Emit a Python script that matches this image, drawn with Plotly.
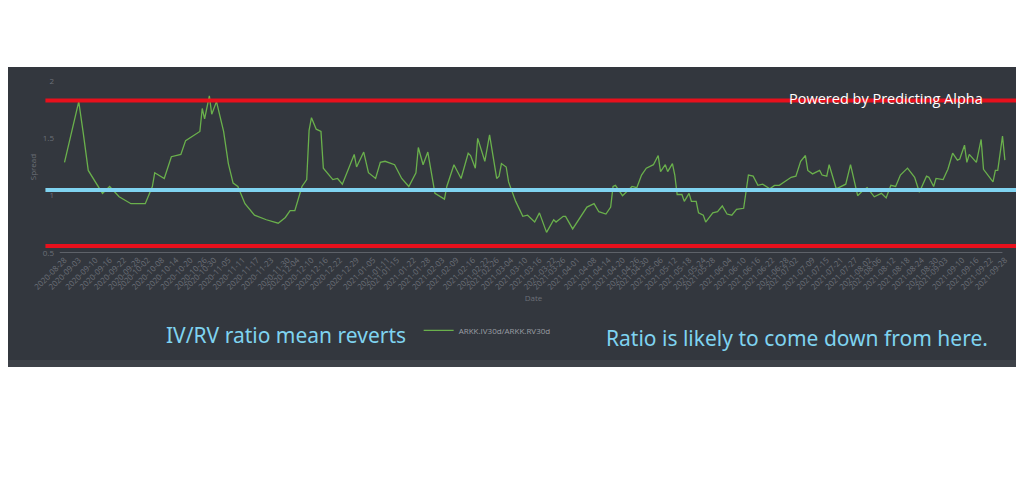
import plotly.graph_objects as go
import pandas as pd

start = pd.Timestamp("2020-08-28")

# days after 2020-08-28
day_offsets = [0, 6, 8, 10, 16, 19, 23, 28, 34, 37, 38, 42, 45, 49, 51, 57, 58, 59, 61, 62,
               64, 67, 69, 71, 73, 76, 80, 85, 90, 93, 95, 97, 100, 102, 103, 104, 106, 108, 109, 113,
               115, 117, 122, 123, 126, 128, 131, 133, 135, 139, 142, 145, 148, 149, 151, 153, 156, 160, 161, 164,
               167, 170, 171, 173, 174, 177, 179, 182, 183, 184, 186, 187, 190, 193, 195, 198, 200, 203, 206, 207,
               210, 211, 214, 216, 220, 223, 225, 228, 230, 231, 232, 235, 239, 241, 243, 245, 248, 250, 251, 253,
               254, 256, 257, 258, 260, 261, 263, 264, 266, 267, 269, 270, 273, 275, 277, 279, 281, 283, 286, 288,
               290, 292, 294, 297, 299, 301, 303, 306, 308, 310, 312, 313, 315, 318, 319, 321, 322, 325, 329, 331,
               334, 336, 338, 341, 344, 346, 348, 350, 352, 355, 358, 360, 363, 364, 366, 367, 370, 372, 374, 376,
               377, 379, 380, 381, 384, 386, 387, 391, 392, 393, 395, 396]
spread = [1.29, 1.82, 1.53, 1.22, 1.02, 1.08, 0.99, 0.93, 0.93, 1.08, 1.20, 1.15, 1.34, 1.36, 1.48, 1.56, 1.76, 1.67, 1.87, 1.71,
          1.82, 1.56, 1.28, 1.11, 1.08, 0.93, 0.83, 0.79, 0.76, 0.81, 0.87, 0.87, 1.08, 1.14, 1.57, 1.68, 1.58, 1.56, 1.24, 1.14,
          1.15, 1.10, 1.36, 1.25, 1.38, 1.20, 1.15, 1.29, 1.30, 1.27, 1.15, 1.08, 1.20, 1.42, 1.27, 1.38, 1.02, 0.97, 1.08, 1.27,
          1.15, 1.37, 1.35, 1.24, 1.50, 1.30, 1.53, 1.15, 1.17, 1.28, 1.25, 1.12, 0.95, 0.82, 0.83, 0.77, 0.85, 0.68, 0.79, 0.77,
          0.82, 0.82, 0.71, 0.77, 0.90, 0.93, 0.86, 0.84, 0.90, 1.08, 1.09, 1.00, 1.08, 1.07, 1.18, 1.24, 1.27, 1.35, 1.21, 1.27,
          1.21, 1.28, 1.18, 1.01, 1.01, 0.95, 1.02, 0.95, 0.95, 0.85, 0.83, 0.77, 0.85, 0.86, 0.91, 0.84, 0.83, 0.88, 0.89, 1.18,
          1.17, 1.09, 1.10, 1.06, 1.09, 1.09, 1.12, 1.16, 1.17, 1.30, 1.35, 1.22, 1.19, 1.22, 1.18, 1.17, 1.27, 1.06, 1.10, 1.27,
          1.00, 1.04, 1.07, 0.99, 1.02, 0.98, 1.09, 1.08, 1.18, 1.24, 1.16, 1.03, 1.17, 1.16, 1.08, 1.15, 1.14, 1.23, 1.37, 1.31,
          1.32, 1.44, 1.29, 1.36, 1.29, 1.49, 1.23, 1.12, 1.22, 1.22, 1.52, 1.31]
dates = [start + pd.Timedelta(days=d) for d in day_offsets]

tick_dates = ["2020-08-28", "2020-09-03", "2020-09-10", "2020-09-16", "2020-09-22", "2020-09-28",
              "2020-10-02", "2020-10-08", "2020-10-14", "2020-10-20", "2020-10-26", "2020-10-30",
              "2020-11-05", "2020-11-11", "2020-11-17", "2020-11-23", "2020-11-30", "2020-12-04",
              "2020-12-10", "2020-12-16", "2020-12-22", "2020-12-29", "2021-01-05", "2021-01-11",
              "2021-01-15", "2021-01-22", "2021-01-28", "2021-02-03", "2021-02-09", "2021-02-16",
              "2021-02-22", "2021-02-26", "2021-03-04", "2021-03-10", "2021-03-16", "2021-03-22",
              "2021-03-26", "2021-04-01", "2021-04-08", "2021-04-14", "2021-04-20", "2021-04-26",
              "2021-04-30", "2021-05-06", "2021-05-12", "2021-05-18", "2021-05-24", "2021-05-28",
              "2021-06-04", "2021-06-10", "2021-06-16", "2021-06-22", "2021-06-28", "2021-07-02",
              "2021-07-09", "2021-07-15", "2021-07-21", "2021-07-27", "2021-08-02", "2021-08-06",
              "2021-08-12", "2021-08-18", "2021-08-24", "2021-08-30", "2021-09-03", "2021-09-10",
              "2021-09-16", "2021-09-22", "2021-09-28"]

upper_band = 1.83
mean_level = 1.05
lower_band = 0.56

fig = go.Figure()
fig.add_trace(go.Scatter(x=dates, y=spread, mode="lines", name="ARKK.IV30d/ARKK.RV30d",
                         line=dict(color="#6ab04c", width=1.3)))

# dark panel behind the chart
fig.add_shape(type="rect", xref="paper", yref="paper", x0=-0.09, x1=1.03, y0=-0.663, y1=1.081,
              fillcolor="#33373e", line_width=0, layer="below")
fig.add_shape(type="rect", xref="paper", yref="paper", x0=-0.09, x1=1.03, y0=-0.663, y1=-0.622,
              fillcolor="#3d4148", line_width=0, layer="below")
for level, col in [(upper_band, "#e8101c"), (mean_level, "#7fd3f0"), (lower_band, "#e8101c")]:
    fig.add_shape(type="line", xref="paper", yref="y", x0=-0.01, x1=1.03, y0=level, y1=level,
                  line=dict(color=col, width=4))
fig.add_shape(type="line", xref="paper", yref="y", x0=0.005, x1=0.99, y0=0.5, y1=0.5,
              line=dict(color="#8a8e94", width=1))

fig.add_annotation(text="Powered by Predicting Alpha", xref="paper", yref="paper", x=0.972, y=0.965,
                   xanchor="right", showarrow=False,
                   font=dict(color="white", size=14.5, family="Open Sans", weight=500))
fig.add_annotation(text="IV/RV ratio mean reverts", xref="paper", yref="paper", x=0.241, y=-0.477,
                   xanchor="center", yanchor="middle", showarrow=False,
                   font=dict(color="#7fd3f0", size=21, family="Noto Sans"))
fig.add_annotation(text="Ratio is likely to come down from here.", xref="paper", yref="paper", x=0.775, y=-0.494,
                   xanchor="center", yanchor="middle", showarrow=False,
                   font=dict(color="#7fd3f0", size=21, family="Noto Sans"))

fig.update_layout(
    width=1024, height=500,
    margin=dict(l=47, r=20, t=73, b=255),
    paper_bgcolor="white", plot_bgcolor="rgba(0,0,0,0)",
    showlegend=True,
    legend=dict(x=0.38, y=-0.45, xanchor="left", yanchor="middle", bgcolor="rgba(0,0,0,0)",
                itemwidth=30, font=dict(color="#9a9ea4", size=8)),
    xaxis=dict(tickvals=tick_dates, ticktext=tick_dates, tickangle=-45, showgrid=False, zeroline=False,
               tickfont=dict(color="#6c7078", size=8), range=["2020-08-24", "2021-10-01"],
               title=dict(text="Date", font=dict(color="#6c7078", size=8), standoff=4)),
    yaxis=dict(range=[0.5, 2.0], tickvals=[0.5, 1, 1.5, 2], showgrid=False, zeroline=False,
               tickfont=dict(color="#6c7078", size=8), showline=False,
               title=dict(text="Spread", font=dict(color="#6c7078", size=8), standoff=4)),
)

fig.write_html("out.html")
